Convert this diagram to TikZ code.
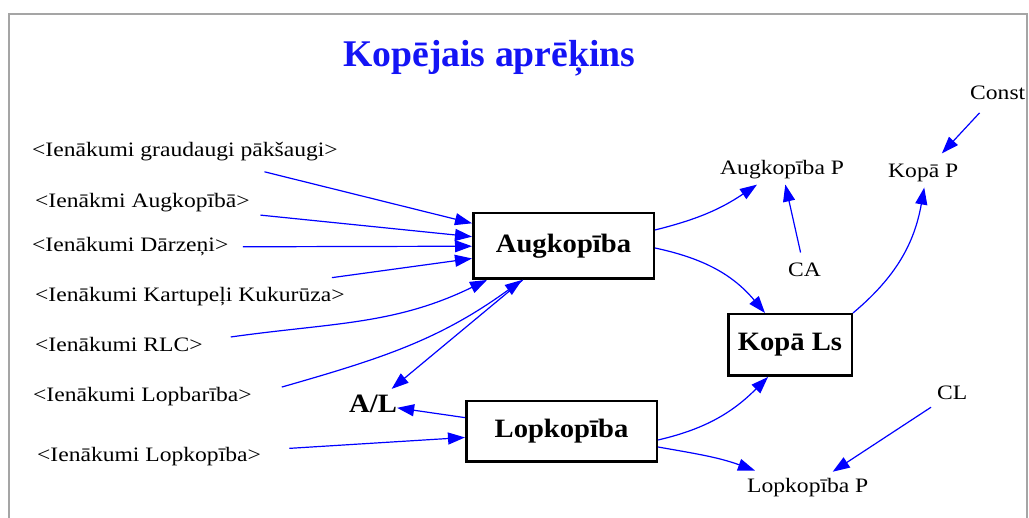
\documentclass[tikz,border=0pt]{standalone}
\usepackage{fontspec}
\setmainfont{Liberation Serif}
\newfontfamily\lblfont{Liberation Serif}[FakeStretch=1.15]
\newfontfamily\bxfont{Liberation Serif}[FakeStretch=1.08]
\usetikzlibrary{arrows.meta,calc}
\definecolor{arrblue}{RGB}{0,0,255}
\definecolor{titleblue}{RGB}{20,20,245}
\definecolor{frameg}{RGB}{165,165,165}
\begin{document}
\begin{tikzpicture}[x=1pt,y=1pt,
  lbl/.style={inner sep=0pt, anchor=base west, font=\lblfont\fontsize{20.5}{24}\selectfont},
  bxlbl/.style={font=\bxfont\bfseries\fontsize{26.5}{30}\selectfont},
  stockbox/.style={draw=black, line width=2.5pt, fill=white, inner sep=0pt, bxlbl},
  arr/.style={draw=arrblue, line width=1.2pt, -{Triangle[length=17pt,width=12pt]}},
]
\useasboundingbox (0,0) rectangle (1029,518);
% frame
\draw[frameg, line width=2pt] (9,0) -- (9,504) -- (1027,504) -- (1027,0);

% title
\node[font=\bfseries\fontsize{37.7}{40}\selectfont, text=titleblue, anchor=base west, inner sep=0pt] (title) at (343,451) {Kopējais aprēķins};

% input labels
\node[lbl] (g1) at (32,361) {<Ienākumi graudaugi pākšaugi>};
\node[lbl] (g2) at (35,310) {<Ienākmi Augkopībā>};
\node[lbl] (g3) at (32,266) {<Ienākumi Dārzeņi>};
\node[lbl] (g4) at (35,216) {<Ienākumi Kartupeļi Kukurūza>};
\node[lbl] (g5) at (35,166) {<Ienākumi RLC>};
\node[lbl] (g6) at (33,116) {<Ienākumi Lopbarība>};
\node[lbl] (g7) at (37,56) {<Ienākumi Lopkopība>};

% boxes
\node[stockbox, minimum width=180.5pt, minimum height=65.5pt] (aug) at (563.5,272) {Augkopība};
\node[stockbox, minimum width=190.5pt, minimum height=60.5pt] (lop) at (561.5,86.5) {Lopkopība};
\node[stockbox, minimum width=123.5pt, minimum height=61.5pt] (kls) at (790,173) {Kopā Ls};

% other variables
\node[lbl] (augp) at (720,343) {Augkopība P};
\node[lbl] (kopp) at (888,340) {Kopā P};
\node[lbl] (const) at (970,418) {Const};
\node[lbl] (ca) at (788,241) {CA};
\node[lbl] (cl) at (937,118) {CL};
\node[lbl] (lopp) at (747,25) {Lopkopība P};
\node[bxlbl, inner sep=0pt, anchor=base west] (al) at (349,105) {A/L};

% connectors
\draw[arr] ($(g1)!0.21!(aug)$) -- (aug);
\draw[arr] ($(g2)!0.28!(aug)$) -- (aug);
\draw[arr] ($(g3)!0.26!(aug)$) -- (aug);
\draw[arr] ($(g4)!0.38!(aug)$) -- (aug);
\draw[arr] ([xshift=28pt,yshift=8pt]g5.east) to[out=8,in=206] ([xshift=15pt]aug.south west);
\draw[arr] ([xshift=30pt,yshift=10pt]g6.east) to[out=16,in=216] ([xshift=50pt]aug.south west);
\draw[arr, shorten >=10pt] (aug) -- (al);
\draw[arr] (lop) -- (al);
\draw[arr] ($(g7)!0.34!(lop)$) -- (lop);
\draw[arr] ([yshift=16pt]aug.east) to[out=14,in=214] ([xshift=37pt,yshift=-5pt]augp.south west);
\draw[arr, shorten <=11pt, shorten >=5pt] (ca) -- (augp);
\draw[arr] ([yshift=-2pt]aug.east) to[out=-12,in=130] ([xshift=38pt]kls.north west);
\draw[arr] (kls.north east) to[out=40,in=-100] ([xshift=1pt,yshift=-5pt]kopp.south);
\draw[arr, shorten <=17pt, shorten >=15pt] (const) -- (kopp);
\draw[arr] ([yshift=-8.5pt]lop.east) to[out=13,in=225] ([xshift=41pt]kls.south west);
\draw[arr] ([yshift=-15.5pt]lop.east) to[out=-10,in=160] ([xshift=8pt,yshift=8pt]lopp.north west);
\draw[arr, shorten <=12.5pt, shorten >=12.5pt] (cl) -- (lopp);
\end{tikzpicture}
\end{document}
